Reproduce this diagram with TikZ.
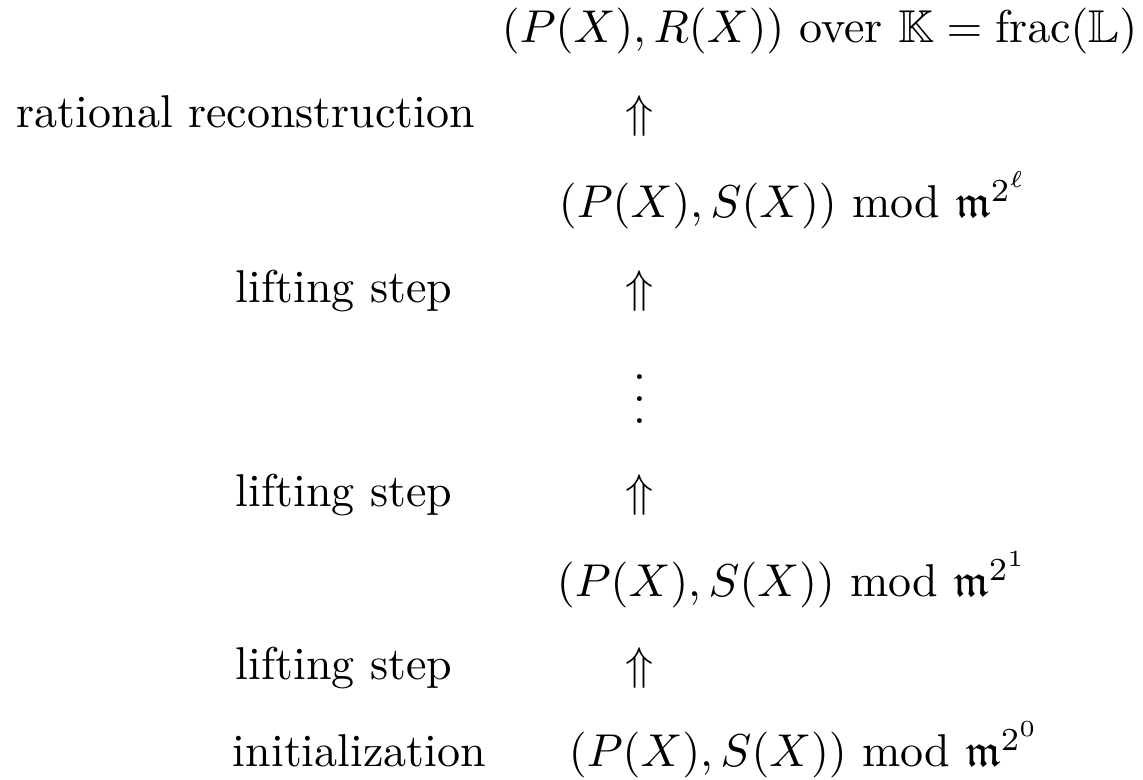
\documentclass[tikz,border=0pt]{standalone}
\usepackage{amsmath,amssymb}
\begin{document}
\begin{tikzpicture}[x=0.2174pt,y=-0.2174pt,
  lbl/.style={inner sep=0pt,anchor=base west},
  arr/.style={inner sep=0pt,anchor=base}]
\useasboundingbox (0,0) rectangle (1143,780);
\node[lbl] (top) at (501,43) {$(P(X),R(X))\text{ over }\mathbb{K}=\mathrm{frac}(\mathbb{L})$};
\node[lbl] (rr) at (16,128) {rational reconstruction};
\node[arr] (a1) at (640,128) {$\Uparrow$};
\node[lbl] (ml) at (558,218) {$(P(X),S(X))\text{ mod }\mathfrak{m}^{2^{\ell}}$};
\node[lbl] (ls1) at (235,303) {lifting step};
\node[arr] (a2) at (640,303) {$\Uparrow$};
\node[inner sep=0pt] (dots) at (640,399) {\vbox{\baselineskip=4.8pt\lineskiplimit=0pt\hbox{.}\hbox{.}\hbox{.}}};
\node[lbl] (ls2) at (235,507) {lifting step};
\node[arr] (a3) at (640,507) {$\Uparrow$};
\node[lbl] (m1) at (556,597) {$(P(X),S(X))\text{ mod }\mathfrak{m}^{2^{1}}$};
\node[lbl] (ls3) at (235,680) {lifting step};
\node[arr] (a4) at (640,680) {$\Uparrow$};
\node[lbl] (init) at (232,767) {initialization};
\node[lbl] (m0) at (568,767) {$(P(X),S(X))\text{ mod }\mathfrak{m}^{2^{0}}$};
\end{tikzpicture}
\end{document}
